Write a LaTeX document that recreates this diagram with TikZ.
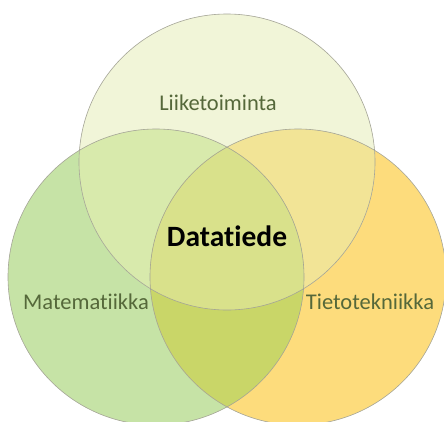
\documentclass[tikz,border=0pt]{standalone}
\usepackage{fontspec}
\setmainfont{Carlito}[Ligatures={NoCommon}]
\definecolor{cL}{HTML}{C6E3A6}
\definecolor{cR}{HTML}{FDDC7C}
\definecolor{cT}{HTML}{F1F5D8}
\definecolor{cLT}{HTML}{D8EAAC}
\definecolor{cRT}{HTML}{F2E496}
\definecolor{cLR}{HTML}{C9D668}
\definecolor{cLRT}{HTML}{D9E18B}
\definecolor{rim}{HTML}{A4A496}
\definecolor{lbl}{HTML}{55683A}
\tikzset{
  rimline/.style={draw=rim, line width=0.6pt},
  lbltext/.style={text=lbl, font=\fontsize{22.5}{25}\selectfont, inner sep=0pt},
  maintext/.style={text=black, font=\fontsize{29.5}{33}\selectfont\bfseries, inner sep=0pt}
}
\begin{document}
\begin{tikzpicture}[x=1pt,y=-1pt]
\useasboundingbox (0,0) rectangle (444,421);
\clip (0,0) rectangle (444,421);
\def\rad{148}
\coordinate (cl) at (156,277);
\coordinate (cr) at (298,277);
\coordinate (ct) at (227,162);
% single circles
\fill[cL] (cl) circle (\rad);
\fill[cR] (cr) circle (\rad);
\fill[cT] (ct) circle (\rad);
% pairwise overlaps
\begin{scope}
  \clip (cl) circle (\rad);
  \fill[cLT] (ct) circle (\rad);
\end{scope}
\begin{scope}
  \clip (cr) circle (\rad);
  \fill[cRT] (ct) circle (\rad);
\end{scope}
\begin{scope}
  \clip (cl) circle (\rad);
  \fill[cLR] (cr) circle (\rad);
\end{scope}
% common core
\begin{scope}
  \clip (cl) circle (\rad);
  \clip (cr) circle (\rad);
  \fill[cLRT] (ct) circle (\rad);
\end{scope}
% outlines
\draw[rimline] (cl) circle (\rad);
\draw[rimline] (cr) circle (\rad);
\draw[rimline] (ct) circle (\rad);
% labels
\node[lbltext] (liike) at (218,103) {Liiketoiminta};
\node[lbltext] (mate) at (86,302) {Matematiikka};
\node[lbltext] (tieto) at (370,302) {Tietotekniikka};
\node[maintext] (data) at (227,236) {Datatiede};
\end{tikzpicture}
\end{document}
